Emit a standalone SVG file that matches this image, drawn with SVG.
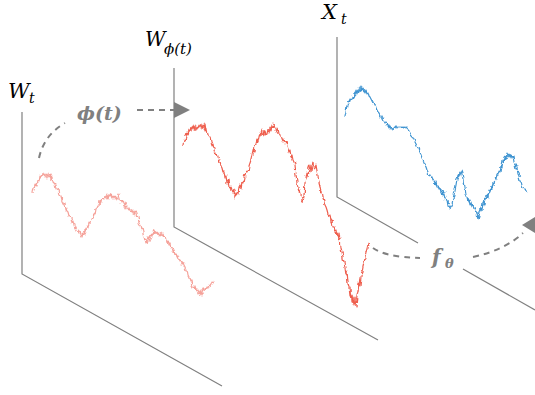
<svg xmlns="http://www.w3.org/2000/svg" width="535" height="395" viewBox="0 0 535 395">
<style>
.axis{fill:none;stroke:#808080;stroke-width:1.2}
.dash{fill:none;stroke:#808080;stroke-width:2;stroke-dasharray:6 5}
.head{fill:#808080}
.series{fill:none;stroke-width:1.2;stroke-linejoin:round;filter:url(#jag)}
.lbl{font-family:'DejaVu Serif',serif;font-style:italic;fill:#000}
.op{font-family:'DejaVu Serif',serif;font-style:italic;font-weight:bold;fill:#808080}
</style>
<defs>
<filter id="jag" x="-5%" y="-5%" width="110%" height="110%">
<feTurbulence type="fractalNoise" baseFrequency="0.18" numOctaves="2" seed="7" result="n"/>
<feDisplacementMap in="SourceGraphic" in2="n" scale="5" xChannelSelector="R" yChannelSelector="G"/>
</filter>
</defs>
<rect width="535" height="395" fill="#fff"/>
<g id="panel-Wt">
<path class="axis" d="M22,112 V274 L222,386"/>
<polyline class="series" stroke="#F5A29A" points="32,193 33,188 34,189 35,184 37,185 38,180 39,182 40,176 41,178 42,173 43,176 44,174 45,177 46,174 47,178 48,173 49,177 50,175 51,179 52,177 53,182 55,184 56,189 58,190 59,195 61,197 62,201 64,205 65,204 66,210 68,212 69,216 71,218 72,223 73,221 74,226 75,229 76,227 77,231 79,232 80,230 81,235 82,237 83,233 84,234 85,229 86,231 87,226 88,228 89,222 90,224 91,219 93,217 94,213 95,215 96,209 97,207 98,205 99,206 100,201 101,203 102,198 104,199 105,196 106,198 107,195 108,199 109,196 110,197 111,193 112,197 113,199 114,196 115,199 116,197 117,200 118,198 119,194 120,199 121,203 122,201 123,204 124,206 125,203 126,208 127,206 128,207 129,210 130,209 131,213 132,210 133,214 134,211 135,215 136,212 137,213 138,218 139,222 140,225 141,230 142,228 143,233 144,237 145,240 146,239 147,243 148,240 149,237 150,238 151,235 152,236 153,232 154,234 155,230 156,234 157,231 158,235 159,233 160,236 161,232 162,235 163,233 164,237 165,236 166,240 167,242 168,241 169,245 170,244 171,248 172,247 173,251 174,250 175,254 176,253 177,257 178,256 179,259 180,262 181,260 182,264 183,263 184,266 185,268 186,271 187,270 188,276 189,278 190,281 191,280 192,285 193,287 194,286 195,290 196,289 197,292 198,290 199,294 200,292 201,295 202,291 203,292 204,289 205,290 206,287 207,288 208,285 209,287 210,284 211,285 212,282 213,283 214,281"/>
<text class="lbl" x="8" y="98" font-size="21">W</text>
<text class="lbl" x="29" y="103" font-size="14">t</text>
</g>
<g id="panel-Wphi">
<path class="axis" d="M174,68 V227 L378,340"/>
<polyline class="series" stroke="#EE5E4E" points="183,145 184,140 185,141 186,136 187,133 188,135 189,130 190,131 191,127 192,130 193,126 194,129 195,125 196,130 197,126 198,129 199,124 200,127 201,123 202,129 203,125 204,128 205,124 206,131 207,129 208,134 209,137 210,136 211,142 212,147 213,145 214,150 215,153 216,152 217,157 218,158 219,162 220,161 221,166 222,168 223,172 224,171 225,178 226,176 227,183 228,180 229,186 230,188 231,185 232,191 233,193 234,190 235,198 236,196 237,192 238,194 239,187 240,185 241,189 242,181 243,183 244,178 245,175 246,177 247,170 248,172 249,166 250,163 251,160 252,155 253,150 254,152 255,146 256,144 257,140 258,142 259,137 260,133 261,136 262,130 263,133 264,137 265,131 266,135 267,134 268,129 269,132 270,127 271,130 272,125 273,127 274,123 275,129 276,131 277,128 278,134 279,136 280,135 281,140 282,138 283,142 284,139 285,144 286,142 287,146 288,149 289,152 290,150 291,157 292,155 293,160 294,162 295,165 296,175 297,183 298,188 299,192 300,190 301,195 302,200 303,202 304,196 305,183 306,178 307,172 308,176 309,168 310,165 311,172 312,166 313,163 314,170 315,168 316,165 317,171 318,175 319,183 320,187 321,193 322,190 323,198 324,201 325,205 326,207 327,210 328,214 329,217 330,215 331,222 332,220 333,227 334,226 335,231 336,229 337,236 338,233 339,240 340,238 341,248 342,252 343,258 344,262 345,268 346,275 347,271 348,283 349,287 350,296 351,288 352,302 353,295 354,305 355,298 356,307 357,295 358,290 359,283 360,286 361,277 362,272 363,266 364,262 365,257 366,252 367,249 368,244 369,246"/>
<text class="lbl" x="145" y="46" font-size="20">W</text>
<text class="lbl" x="164" y="54" font-size="15">ϕ(t)</text>
</g>
<g id="panel-Xt">
<path class="axis" d="M337,37 V197 L418,243"/>
<path class="axis" d="M463,269 L535,310"/>
<polyline class="series" stroke="#3F94D1" points="345,117 346,112 347,106 348,101 349,103 350,99 351,101 352,96 353,98 354,92 355,95 356,90 357,94 358,89 359,92 360,88 361,91 362,87 363,90 364,88 365,93 366,90 367,94 368,92 369,96 370,97 371,99 372,101 373,103 374,106 375,105 376,109 377,110 378,112 379,113 380,115 381,117 382,116 383,119 384,121 385,123 386,122 387,126 388,125 389,128 390,126 391,129 392,128 393,130 394,128 395,127 396,126 397,128 398,126 399,127 400,126 401,127 402,126 403,127 404,128 405,127 406,129 407,128 408,130 409,131 410,133 411,135 412,136 413,138 414,140 415,142 416,144 417,146 418,148 419,151 420,152 421,155 422,158 423,160 424,163 425,165 426,167 427,170 428,172 429,175 430,174 431,178 432,177 433,181 434,179 435,184 436,182 437,186 438,185 439,189 440,188 441,192 442,191 443,195 444,194 445,199 446,198 447,202 448,201 449,207 450,209 451,206 452,204 453,199 454,195 455,190 456,185 457,179 458,174 459,176 460,172 461,175 462,171 463,174 464,180 465,188 466,195 467,197 468,201 469,199 470,204 471,202 472,207 473,205 474,210 475,208 476,214 477,213 478,220 479,216 480,212 481,208 482,211 483,202 484,205 485,198 486,201 487,194 488,197 489,190 490,193 491,187 492,189 493,183 494,185 495,178 496,180 497,174 498,175 499,170 500,172 501,166 502,168 503,161 504,163 505,157 506,159 507,152 508,156 509,153 510,158 511,154 512,158 513,156 514,162 515,164 516,168 517,167 518,174 519,176 520,180 521,182 522,185 523,187 524,190 525,189 526,192 527,193"/>
<text class="lbl" x="322" y="19" font-size="21">X</text>
<text class="lbl" x="341" y="24" font-size="14">t</text>
</g>
<g id="connectors">
<path class="dash" d="M39,158 Q44,135 65,123"/>
<path class="dash" d="M137,110 H174"/>
<polygon class="head" points="174,102 190,110 174,118"/>
<text class="op" x="77" y="120" font-size="19">ϕ(t)</text>
<path class="dash" d="M373,248 Q385,257 420,258"/>
<path class="dash" d="M473,257 Q505,250 523,233"/>
<polygon class="head" points="522,225 545,211 545,239"/>
<text class="op" x="432" y="264" font-size="20">f</text>
<text class="op" x="445" y="268" font-size="13">θ</text>
</g>
</svg>
